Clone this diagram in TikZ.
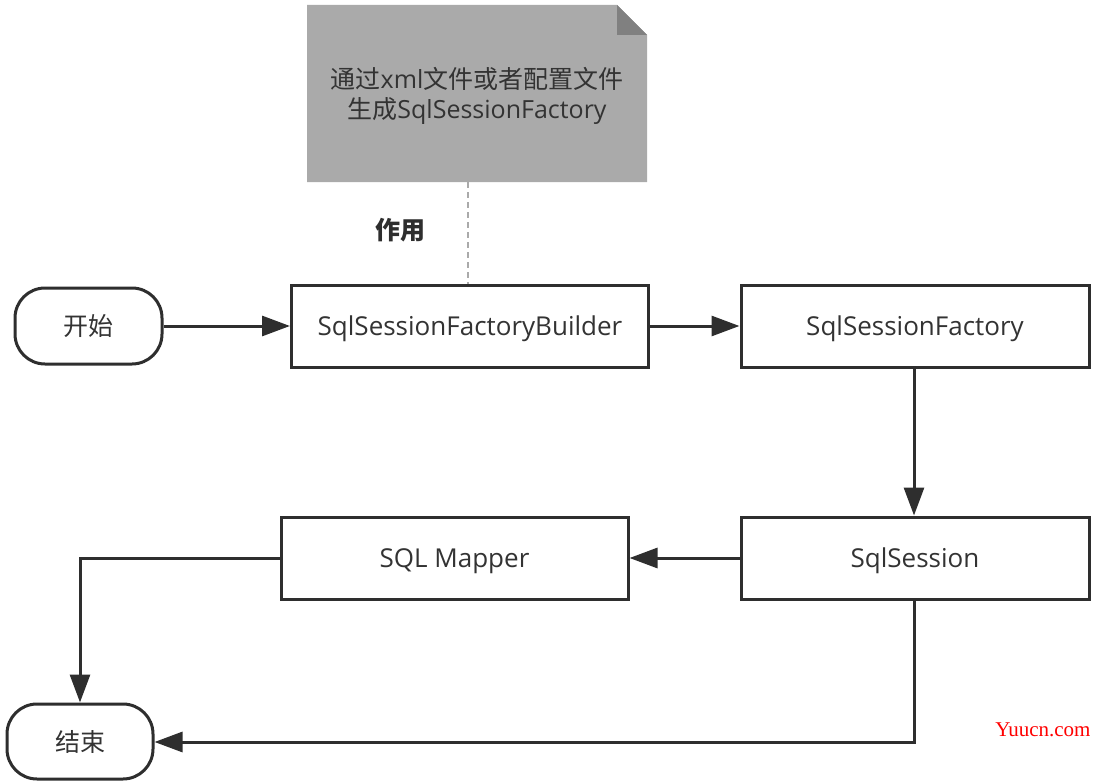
\documentclass[tikz,border=0pt]{standalone}
\usepackage{fontspec}
\setmainfont{Open Sans}
\newfontfamily\cjk{Noto Sans CJK SC}
\newfontfamily\wmfont{Liberation Serif}
\usetikzlibrary{arrows.meta}
\definecolor{ink}{HTML}{2E2E2E}
\definecolor{txt}{HTML}{333333}
\definecolor{notefill}{HTML}{AAAAAA}
\definecolor{notefold}{HTML}{808080}
\tikzset{
  box/.style={draw=ink, line width=3pt, fill=white, text=txt, font=\fontsize{26}{30}\selectfont, inner sep=0pt, text height=19pt, text depth=0pt},
  term/.style={box, rounded corners=30pt, font=\fontsize{25}{30}\selectfont},
  conn/.style={draw=ink, line width=3pt, -{Triangle[length=28pt,width=20pt]}},
}
\begin{document}
\begin{tikzpicture}[x=1pt,y=-1pt]
\useasboundingbox (0,0) rectangle (1106,784);
% note
\fill[notefill] (307,5) -- (617,5) -- (647,35) -- (647,182) -- (307,182) -- cycle;
\fill[notefold] (617,5) -- (647,35) -- (617,35) -- cycle;
\node[text=txt, font=\fontsize{25}{30}\selectfont, align=center] (note) at (477,96)
  {{\cjk 通过}xml{\cjk 文件或者配置文件}\\{\cjk 生成}SqlSessionFactory};
\coordinate (notebot) at (468,182);
% nodes
\node[term, minimum width=147pt, minimum height=76pt] (start) at (88.5,326) {\cjk 开始};
\node[box, minimum width=357pt, minimum height=82pt] (builder) at (470,326) {SqlSessionFactoryBuilder};
\node[box, minimum width=348pt, minimum height=82pt] (factory) at (915,326) {SqlSessionFactory};
\node[box, minimum width=348pt, minimum height=82pt] (session) at (915,558) {SqlSession};
\node[box, minimum width=347pt, minimum height=82pt] (mapper) at (454.5,558) {SQL Mapper};
\node[term, minimum width=146pt, minimum height=75pt] (end) at (80,741.5) {\cjk 结束};
% dashed link
\draw[draw=notefill, line width=2pt, dash pattern=on 6pt off 4pt] (notebot) -- (notebot |- builder.north);
\node[text=ink, font=\cjk\bfseries\fontsize{25}{30}\selectfont] (use) at (400,230) {作用};
% connectors
\draw[conn] (start.east) -- (builder.west);
\draw[conn] (builder.east) -- (factory.west);
\draw[conn] (factory.south -| 914,0) -- (session.north -| 914,0);
\draw[conn] (session.west) -- (mapper.east);
\draw[conn] (mapper.west) -- (80,558) -- (end.north);
\draw[conn] (session.south -| 914,0) -- (914,742) -- (end.east |- 0,742);
% watermark
\node[text=red, font=\wmfont\fontsize{21}{24}\selectfont, anchor=east] (wm) at (1094,730) {Yuucn.com};
\end{tikzpicture}
\end{document}
